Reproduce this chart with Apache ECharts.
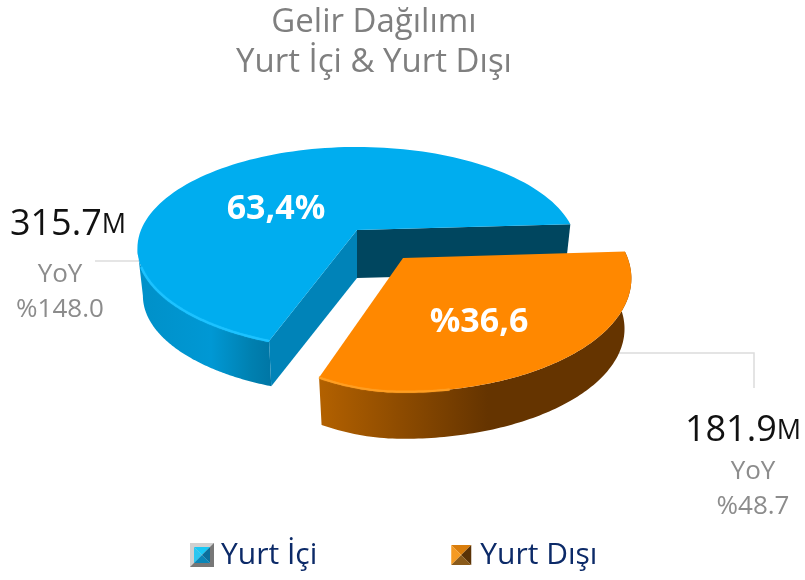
<!DOCTYPE html>
<html><head><meta charset="utf-8">
<style>html,body{margin:0;padding:0;background:#fff}#c{width:805px;height:580px}</style>
<script src="https://cdn.jsdelivr.net/npm/echarts@6/dist/echarts.min.js"></script>
</head><body><div id="c"></div>
<script>
const titleLines = ['Gelir Dağılımı', 'Yurt İçi & Yurt Dışı'];
const categories = ['Yurt İçi', 'Yurt Dışı'];
const revenue = [315.7, 181.9];
const revenueText = ['315.7', '181.9'];
const shareLabels = ['63,4%', '%36,6'];
const yoyLabels = ['%148.0', '%48.7'];

const FONT = '"Open Sans", "Noto Sans", sans-serif';
const total = revenue[0] + revenue[1];
const share = revenue[1] / total;               // orange share, clockwise from start ray
const T0 = -3.4 * Math.PI / 180;
const sweep = 2 * Math.PI * Math.pow(share, 1.15); // 3D view foreshortens the wedge
const P = 0.18, A = 216, B = 98;

function proj(c, t, sx, sy, lift) {
  const X = Math.cos(t), Y = Math.sin(t), w = 1 - P * Y;
  const dx = A * sx * X / w;
  const rise = lift && dx < 0 ? lift * dx * dx : 0;
  return [c[0] + dx, c[1] + B * sy * Y / w - rise];
}
function arc(c, t1, t2, sx, sy, lift) {
  const pts = [], n = 120;
  for (let i = 0; i <= n; i++) pts.push(proj(c, t1 + (t2 - t1) * i / n, sx, sy, lift));
  return pts;
}
function lower(pts, c, k, depth) {
  return pts.map(p => [c[0] + (p[0] - c[0]) * k, c[1] + (p[1] - c[1]) * k + depth]);
}
const grad = stops => new echarts.graphic.LinearGradient(0, 0, 1, 0,
  stops.map(s => ({offset: s[0], color: s[1]})));
const poly = (points, fill, z2) => ({type: 'polygon', shape: {points}, style: {fill}, z2, silent: true});
const line = (points, stroke, width, z2, blur) => ({type: 'polyline', shape: {points},
  style: {fill: null, stroke, lineWidth: width, shadowBlur: blur || 0, shadowColor: stroke}, z2, silent: true});
const leader = points => line(points, '#dcdcdc', 1.5, 0);
const txt = (text, x, y, font, fill, z2) => ({type: 'text', z2, silent: true,
  style: {text, x, y, fill, font, textAlign: 'center', textVerticalAlign: 'middle'}});
function callout(i, xc, y1, dy1, dy2, xr, label) {
  return [
    {type: 'text', silent: true, z2: 20, style: {text: '{n|' + revenueText[i] + '}{m|M}', x: xr, y: y1,
      textAlign: 'right', textVerticalAlign: 'middle', fill: '#111',
      rich: {n: {fontSize: 36, fontFamily: FONT, fill: '#111'}, m: {fontSize: 27, fontFamily: FONT, fill: '#111'}}}},
    txt('YoY', xc, y1 + dy1, '26px ' + FONT, '#8c8c8c', 20),
    txt(label, xc, y1 + dy2, '26px ' + FONT, '#8c8c8c', 20)
  ];
}

function renderBlue(params, api) {
  const c = [357, 230], sx = 1, sy = 1, k = 0.975, depth = 48;
  const tA = T0 + sweep, tB = T0 + 2 * Math.PI;
  const rim = arc(c, tA, tB, sx, sy);
  const a = rim[0], b = rim[rim.length - 1];
  const front = arc(c, tA, Math.PI - 0.18, sx, sy);
  const frontLow = lower(front, c, k, depth);
  const cLow = [c[0], c[1] + depth];
  return {type: 'group', children: [
    leader([[95, 261], [145, 261]]),
    poly(front.concat(frontLow.slice().reverse()),
      grad([[0, '#0090c8'], [0.55, '#0098d4'], [0.85, '#0080b0'], [1, '#0076a5']]), 1),
    poly([b, c, cLow, lower([b], c, k, depth)[0]], '#00465f', 2),
    poly([c, a, lower([a], c, k, depth)[0], cLow], '#0083b8', 3),
    poly([c].concat(rim), '#00adef', 4),
    line(front.slice(0, 100), '#1cc2ff', 2.2, 5, 1),
    txt(shareLabels[0], 276, 209, 'bold 34px ' + FONT, '#fff', 10)
  ].concat(callout(0, 60, 225, 50, 85, 126, yoyLabels[0]))};
}
function renderOrange(params, api) {
  const c = [403, 258], sx = 1.04, sy = 1.12, k = 0.97, depth = 51;
  const rim = arc(c, T0, T0 + sweep - 0.03, sx, sy, 0.0009);
  const low = lower(rim, c, k, depth);
  return {type: 'group', children: [
    leader([[615, 353], [754, 353], [754, 388]]),
    poly(rim.concat(low.slice().reverse()),
      grad([[0, '#b36100'], [0.54, '#653400'], [1, '#653400']]), 6),
    poly([c].concat(rim), '#ff8800', 7),
    line(rim.slice(90), '#ff9e22', 2, 8, 1),
    txt(shareLabels[1], 479, 322, 'bold 34px ' + FONT, '#fff', 10)
  ].concat(callout(1, 753, 431, 41, 76, 801, yoyLabels[1]))};
}

function icon(top, left, right, bottom, frame) {
  const f = frame ? '<rect width="24" height="24" fill="#d0d0d0"/><path d="M24 0V24H0L4 20H20V4Z" fill="#777"/>' : '';
  const o = frame ? 4 : 2, e = 24 - o, m = 12;
  const svg = '<svg xmlns="http://www.w3.org/2000/svg" width="24" height="24">' + f +
    `<path d="M${o} ${o}H${e}L${m} ${m}Z" fill="${top}"/>` +
    `<path d="M${o} ${o}V${e}L${m} ${m}Z" fill="${left}"/>` +
    `<path d="M${e} ${o}V${e}L${m} ${m}Z" fill="${right}"/>` +
    `<path d="M${o} ${e}H${e}L${m} ${m}Z" fill="${bottom}"/></svg>`;
  return 'image://data:image/svg+xml;charset=utf-8,' + encodeURIComponent(svg);
}

const chart = echarts.init(document.getElementById('c'), null, {renderer: 'canvas'});
chart.setOption({
  animation: false,
  backgroundColor: '#fff',
  title: {text: titleLines.join('\n'), left: 369, top: -2, textAlign: 'center',
    textStyle: {fontFamily: FONT, fontSize: 33, fontWeight: 'normal', color: '#7f7f7f', lineHeight: 40}},
  legend: {left: 190, top: 540, padding: 0, itemWidth: 24, itemHeight: 24, itemGap: 132,
    selectedMode: false,
    textStyle: {fontFamily: FONT, fontSize: 30, color: '#0c2a68', padding: [8, 0, 0, 2]},
    data: [
      {name: categories[0], icon: icon('#19c8f5', '#2cc6f0', '#0b6f9c', '#0a86b8', true)},
      {name: categories[1], icon: icon('#d97d0c', '#f59a22', '#5a3206', '#8a5a1a', false)}
    ]},
  series: [
    {type: 'custom', name: categories[0], coordinateSystem: 'none', data: [revenue[0]],
      itemStyle: {color: '#00adef'}, renderItem: renderBlue, z: 1, silent: true},
    {type: 'custom', name: categories[1], coordinateSystem: 'none', data: [revenue[1]],
      itemStyle: {color: '#ff8800'}, renderItem: renderOrange, z: 2, silent: true}
  ]
});
</script></body></html>
